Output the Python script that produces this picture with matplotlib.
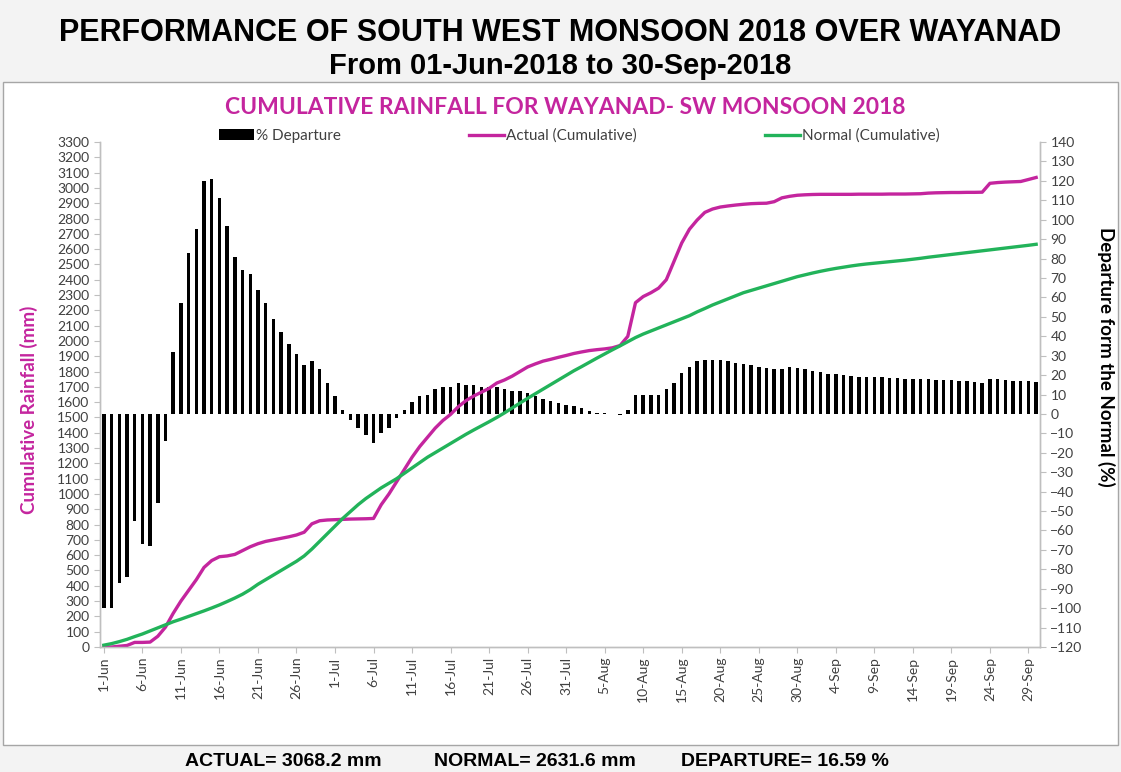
import matplotlib
matplotlib.use("Agg")
import matplotlib.pyplot as plt
from matplotlib.patches import Rectangle
import numpy as np
import datetime as dt

# ---- data -------------------------------------------------------------
start = dt.date(2018, 6, 1)
days = [start + dt.timedelta(days=i) for i in range(122)]
day_labels = [f"{d.day}-{d.strftime('%b')}" for d in days]

departure_pct = [
    -100, -100, -87, -84, -55, -67, -68, -46, -14, 32,
    57, 83, 95, 120, 121, 111, 97, 81, 74, 72,
    64, 57, 49, 42, 36, 31, 25, 27, 23, 16,
    9, 2, -3, -7, -11, -15, -10, -7, -2, 2,
    6, 9, 10, 13, 14, 14, 16, 15, 15, 14,
    14, 14, 13, 12, 12, 11, 9, 7.5, 6.5, 5.5,
    4.5, 4, 3, 1.7, 0.6, 0.3, 0.2, -0.5, 2, 10,
    10, 10, 10, 13, 16, 21, 24, 27, 27.7, 27.7,
    27.7, 27, 26, 25.5, 25, 24, 23.5, 23, 23, 24,
    23.7, 23, 22, 21.4, 20.7, 20.4, 20, 19.7, 19.2, 19.2,
    18.9, 18.9, 18.4, 18.4, 18.2, 18.2, 18, 18, 17.7, 17.7,
    17.4, 17, 16.8, 16.5, 16.1, 17.8, 17.8, 17.3, 17, 16.8,
    16.7, 16.59,
]

actual_cum = [
    0, 0, 5, 10, 30, 30, 32, 70, 130, 220,
    300, 370, 440, 520, 565, 590, 595, 605, 630, 655,
    675, 690, 700, 710, 720, 732, 750, 805, 825, 830,
    832, 834, 836, 837, 838, 840, 930, 1000, 1080, 1160,
    1240, 1310, 1370, 1430, 1480, 1520, 1570, 1610, 1640, 1665,
    1690, 1725, 1745, 1770, 1800, 1830, 1850, 1868, 1880, 1893,
    1905, 1918, 1928, 1937, 1943, 1948, 1955, 1970, 2030, 2250,
    2290, 2315, 2345, 2400, 2520, 2640, 2730, 2790, 2840, 2862,
    2875, 2882, 2888, 2893, 2897, 2899, 2900, 2910, 2935, 2945,
    2952, 2955, 2957, 2958, 2958, 2958, 2958, 2958, 2959, 2959,
    2959, 2959, 2960, 2960, 2960, 2961, 2962, 2966, 2968, 2969,
    2970, 2970, 2971, 2971, 2972, 3030, 3035, 3038, 3040, 3042,
    3055, 3068.2,
]

normal_cum = [
    12, 22, 35, 50, 68, 85, 105, 125, 145, 165,
    182, 200, 218, 236, 255, 275, 297, 320, 345, 375,
    410, 440, 470, 500, 530, 560, 595, 640, 690, 740,
    790, 840, 885, 930, 970, 1005, 1040, 1070, 1100, 1135,
    1170, 1205, 1240, 1270, 1300, 1330, 1360, 1390, 1418, 1445,
    1472, 1500, 1530, 1562, 1594, 1625, 1655, 1685, 1715, 1745,
    1775, 1805, 1832, 1860, 1888, 1915, 1942, 1968, 1995, 2022,
    2045, 2065, 2085, 2105, 2125, 2145, 2165, 2190, 2212, 2235,
    2255, 2275, 2295, 2315, 2330, 2345, 2360, 2375, 2390, 2405,
    2420, 2432, 2444, 2455, 2465, 2474, 2482, 2490, 2497, 2503,
    2508, 2513, 2518, 2523, 2528, 2534, 2540, 2547, 2553, 2559,
    2565, 2571, 2577, 2583, 2589, 2595, 2601, 2607, 2613, 2619,
    2625, 2631.6,
]

total_actual = 3068.2
total_normal = 2631.6
total_departure = 16.59

# ---- styling ----------------------------------------------------------
MAGENTA = "#C4259E"
GREEN = "#22B35A"
AXIS_GREY = "#BFBFBF"
TEXT = "#404040"
HEAD_FONT = ["Liberation Sans", "DejaVu Sans"]
BODY_FONT = ["Lato", "DejaVu Sans"]

W, H = 1121, 772
fig = plt.figure(figsize=(W / 100, H / 100), dpi=100)
fig.patch.set_facecolor("#F3F3F3")


def fx(px):
    return px / W


def fy(py):
    return 1 - py / H


# panel frame behind the chart
fig.patches.append(Rectangle((fx(3), fy(745)), fx(1115), (745 - 82) / H,
                             transform=fig.transFigure, facecolor="white",
                             edgecolor="#A6A6A6", lw=1.0, zorder=-10))

# headline
fig.text(0.5, fy(33), "PERFORMANCE OF SOUTH WEST MONSOON 2018 OVER WAYANAD",
         ha="center", va="center", fontsize=22, fontweight="bold",
         family=HEAD_FONT, color="black")
fig.text(0.5, fy(66), "From 01-Jun-2018 to 30-Sep-2018",
         ha="center", va="center", fontsize=21, fontweight="bold",
         family=HEAD_FONT, color="black")

# chart title
fig.text(fx(565), fy(107), "CUMULATIVE RAINFALL FOR WAYANAD- SW MONSOON 2018",
         ha="center", va="center", fontsize=16.5, fontweight="bold",
         family=BODY_FONT, color=MAGENTA)

# ---- axes -------------------------------------------------------------
ax = fig.add_axes([fx(100), fy(647), fx(940), (647 - 142) / H])
ax.set_facecolor("none")
x = np.arange(len(days))

bars = ax.bar(x, departure_pct, width=0.45, color="black", zorder=2,
              label="% Departure")
ax.set_ylim(-120, 140)
ax.set_yticks(np.arange(-120, 141, 10))

ax2 = ax.twinx()
ax2.set_facecolor("none")
l1, = ax2.plot(x, actual_cum, color=MAGENTA, lw=2.4, label="Actual (Cumulative)",
               solid_joinstyle="round")
l2, = ax2.plot(x, normal_cum, color=GREEN, lw=2.4, label="Normal (Cumulative)",
               solid_joinstyle="round")
ax2.set_ylim(0, 3300)
ax2.set_yticks(np.arange(0, 3301, 100))

# departure scale on the right, rainfall scale on the left
ax.yaxis.tick_right()
ax2.yaxis.tick_left()

ax.set_xlim(-0.5, len(days) - 0.5)
ax.set_xticks(x[::5])
ax.set_xticklabels(day_labels[::5], rotation=90, fontsize=10, family=BODY_FONT,
                   color=TEXT)

for a in (ax, ax2):
    a.spines["top"].set_visible(False)
    for side in ("left", "right", "bottom"):
        a.spines[side].set_color(AXIS_GREY)
        a.spines[side].set_linewidth(1.0)
    a.tick_params(axis="both", colors=AXIS_GREY, length=4, width=0.8,
                  labelcolor=TEXT, labelsize=10)
    for lab in a.get_yticklabels():
        lab.set_family(BODY_FONT)
ax.tick_params(axis="x", labelsize=10, pad=3)

# axis titles
fig.text(fx(29), fy(410), "Cumulative Rainfall (mm)", rotation=90,
         ha="center", va="center", fontsize=13.5, fontweight="bold",
         family=BODY_FONT, color=MAGENTA)
fig.text(fx(1106), fy(357), "Departure form the Normal (%)", rotation=-90,
         ha="center", va="center", fontsize=13.5, fontweight="bold",
         family=BODY_FONT, color="black")

# legend
leg = fig.legend(handles=[bars, l1, l2], loc="center left",
                 bbox_to_anchor=(fx(205), fy(136)), ncol=3, frameon=False,
                 handlelength=2.3, handletextpad=0.12,
                 columnspacing=8.4, prop={"family": BODY_FONT, "size": 11})
for t in leg.get_texts():
    t.set_color(TEXT)

# footer
fig.text(fx(283), fy(762), f"ACTUAL= {total_actual} mm", ha="center", va="center",
         fontsize=14, fontweight="bold", family=HEAD_FONT, color="black")
fig.text(fx(535), fy(762), f"NORMAL= {total_normal} mm", ha="center", va="center",
         fontsize=14, fontweight="bold", family=HEAD_FONT, color="black")
fig.text(fx(785), fy(762), f"DEPARTURE= {total_departure} %", ha="center", va="center",
         fontsize=14, fontweight="bold", family=HEAD_FONT, color="black")

fig.savefig("out.png", dpi=100, facecolor=fig.get_facecolor())
